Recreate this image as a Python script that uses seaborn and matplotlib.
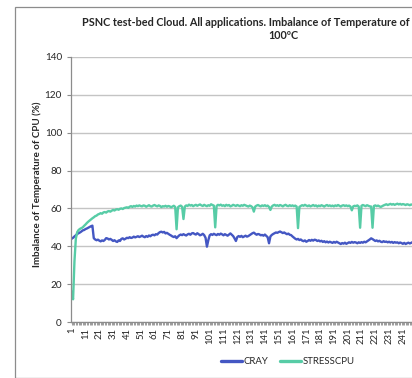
import numpy as np
import pandas as pd
import matplotlib
matplotlib.use("Agg")
import matplotlib.pyplot as plt
from matplotlib.patches import Rectangle
from matplotlib.ticker import FixedLocator, FuncFormatter
import seaborn as sns

# Imbalance of CPU temperature (%) per sample, two applications
cray = [
    44.0, 44.5, 45.2, 45.8, 46.5, 46.9, 47.3, 47.8, 48.4, 48.6,
    49.1, 49.4, 49.8, 50.2, 50.6, 50.9, 44.3, 43.6, 43.2, 43.5,
    43.0, 42.6, 43.1, 42.8, 43.4, 44.3, 44.1, 43.6, 43.9, 43.4,
    42.8, 43.2, 42.6, 42.3, 43.1, 42.8, 43.9, 44.2, 43.6, 44.0,
    44.5, 44.3, 44.8, 44.4, 44.6, 45.1, 44.7, 45.0, 45.3, 44.9,
    45.2, 45.6, 45.1, 44.8, 45.4, 45.0, 45.7, 45.3, 45.9, 46.1,
    45.8, 46.4, 46.2, 47.0, 47.5, 47.7, 47.3, 47.6, 46.8, 47.1,
    46.6, 46.1, 45.7, 45.2, 44.9, 45.3, 44.3, 45.1, 45.8, 46.2,
    45.9, 46.4, 46.0, 45.7, 46.3, 46.6, 46.1, 46.8, 47.0, 46.5,
    46.2, 46.9, 46.4, 45.8, 46.1, 46.6, 45.9, 44.5, 39.8, 43.2,
    45.8, 46.4, 46.0, 46.6, 46.2, 45.9, 46.5, 46.1, 46.7, 46.3,
    45.8, 46.4, 46.0, 45.6, 46.2, 46.8, 46.1, 45.4, 44.2, 42.8,
    44.9, 45.4, 45.0, 45.5, 44.8, 45.2, 45.6, 45.1, 45.4, 45.9,
    46.4, 46.9, 47.2, 46.6, 46.1, 46.5, 46.3, 45.8, 46.0, 45.6,
    46.2, 45.5, 44.8, 41.6, 45.2, 46.0, 46.5, 46.9, 47.3, 47.1,
    47.5, 47.8, 47.4, 47.0, 47.3, 46.8, 46.4, 46.7, 46.1, 45.9,
    45.2, 44.6, 44.0, 43.6, 43.9, 43.3, 43.6, 43.0, 42.7, 43.1,
    42.4, 42.8, 43.3, 42.9, 43.4, 43.0, 43.5, 43.3, 42.8, 43.1,
    42.6, 42.9, 42.3, 42.7, 42.1, 42.5, 42.0, 42.4, 42.1, 41.8,
    42.3, 41.9, 42.4, 42.0, 41.6, 41.2, 41.7, 41.4, 41.9, 41.3,
    41.7, 42.1, 41.8, 42.3, 41.9, 42.2, 42.0, 41.6, 42.1, 41.8,
    42.2, 41.9, 42.4, 42.1, 42.6, 43.1, 43.6, 44.2, 43.8, 43.3,
    42.8, 43.1, 42.6, 42.9, 42.4, 42.2, 42.7, 42.3, 42.5, 42.1,
    42.4, 42.0, 42.3, 41.8, 42.2, 41.9, 42.1, 41.6, 42.0, 41.7,
    41.3, 41.8, 41.2, 41.6, 41.9, 41.5, 41.8, 42.2, 41.9, 42.1,
]

stresscpu = [
    16.0, 12.0, 32.0, 44.0, 47.5, 48.6, 49.2, 49.6, 50.0, 50.8,
    51.5, 52.3, 53.0, 53.6, 54.2, 54.8, 55.3, 55.9, 56.2, 56.8,
    57.1, 57.5, 57.2, 57.9, 58.1, 57.8, 58.4, 58.6, 58.3, 58.8,
    59.2, 58.9, 59.4, 59.6, 59.3, 59.8, 60.0, 59.7, 60.2, 60.4,
    60.6, 60.3, 60.9, 61.2, 60.8, 61.3, 61.0, 61.5, 61.2, 61.6,
    61.3, 61.1, 61.6, 61.4, 60.9, 61.3, 61.7, 61.2, 61.0, 61.5,
    61.8, 61.4, 61.1, 61.6, 61.3, 60.7, 61.2, 61.0, 61.4, 60.9,
    61.3, 61.1, 60.6, 61.0, 61.4, 60.8, 49.0, 60.6, 61.2, 61.5,
    60.9, 54.4, 61.0, 61.6, 61.3, 62.0, 61.5, 61.8, 61.2, 61.6,
    61.9, 61.4, 61.8, 62.1, 61.6, 61.3, 61.9, 61.5, 61.2, 61.7,
    61.4, 62.2, 61.8, 61.5, 50.0, 61.3, 61.9, 61.6, 62.0, 61.4,
    61.7, 61.2, 61.9, 61.5, 61.8, 61.1, 61.4, 61.9, 61.6, 61.3,
    61.8, 61.5, 61.2, 61.7, 61.4, 61.9, 61.6, 61.3, 61.0, 61.5,
    61.2, 60.6, 58.3, 61.0, 61.5, 61.8, 61.4, 61.1, 61.6, 61.3,
    61.7, 61.2, 61.5, 60.8, 59.2, 61.0, 61.6, 61.9, 61.4, 61.7,
    61.3, 61.8, 61.5, 61.1, 61.6, 61.9, 61.4, 61.2, 61.7, 61.3,
    61.6, 61.2, 61.5, 61.0, 49.6, 60.8, 61.3, 61.7, 61.4, 61.9,
    61.5, 61.2, 61.6, 61.1, 61.4, 61.8, 61.3, 61.6, 61.0, 61.5,
    61.2, 61.7, 61.4, 61.0, 61.5, 61.8, 61.3, 61.6, 61.2, 61.5,
    61.1, 61.6, 61.3, 61.8, 61.4, 61.0, 61.5, 61.7, 61.3, 61.6,
    61.2, 61.5, 61.0, 59.0, 61.1, 61.4, 61.2, 61.6, 61.0, 49.8,
    61.4, 61.8, 61.5, 61.2, 61.7, 61.4, 61.1, 61.0, 49.8, 61.3,
    61.6, 61.2, 61.5, 61.1, 60.8, 61.2, 61.6, 61.9, 62.2, 61.8,
    62.1, 62.4, 62.0, 62.3, 61.9, 62.2, 62.5, 62.1, 62.4, 62.0,
    62.3, 62.1, 61.8, 62.2, 62.0, 61.7, 62.1, 61.9, 62.2, 62.0,
]

series_names = ["CRAY", "STRESSCPU"]
series_colors = ["#4457c3", "#57cca6"]
y_ticks = [0, 20, 40, 60, 80, 100, 120, 140]
n_categories = 340          # full length of the category axis
last_label = 241            # last category label inside the figure
label_every = 10

samples = np.arange(1, len(cray) + 1)
df = pd.concat([
    pd.DataFrame({"sample": samples, "value": cray, "series": series_names[0]}),
    pd.DataFrame({"sample": samples, "value": stresscpu, "series": series_names[1]}),
])

sns.set_theme(style="white")
plt.rcParams["font.family"] = ["Lato", "DejaVu Sans"]

W, H, DPI = 412, 378, 100
fig = plt.figure(figsize=(W / DPI, H / DPI), dpi=DPI)

# outer chart frame
fig.patches.append(Rectangle((15.5 / W, 0.5 / H), 1.0, (377 - 6) / H,
                             transform=fig.transFigure, fill=False,
                             edgecolor="#8c8c8c", linewidth=0.9, zorder=0))

px_per_cat = 1.38
ax_left, ax_bottom, ax_top = 71, 322, 57
ax = fig.add_axes([ax_left / W, (H - ax_bottom) / H,
                   n_categories * px_per_cat / W, (ax_bottom - ax_top) / H])

sns.lineplot(data=df, x="sample", y="value", hue="series",
             palette=dict(zip(series_names, series_colors)),
             linewidth=1.7, ax=ax, legend=True)

ax.set_xlim(0.5, n_categories + 0.5)
ax.set_ylim(0, 140)
ax.set_yticks(y_ticks)
ax.yaxis.grid(True, color="#c4c4c4", linewidth=1.0)
ax.set_axisbelow(True)
for side in ["top", "right"]:
    ax.spines[side].set_visible(False)
ax.spines["left"].set_color("#8c8c8c")
ax.spines["bottom"].set_color("#8c8c8c")
ax.spines["left"].set_linewidth(0.9)
ax.spines["bottom"].set_linewidth(0.9)

ax.xaxis.set_major_locator(FixedLocator(np.arange(1, len(cray) + 1)))
ax.xaxis.set_major_formatter(FuncFormatter(
    lambda v, p: str(int(round(v)))
    if int(round(v)) % label_every == 1 and int(round(v)) <= last_label else ""))
ax.tick_params(axis="x", bottom=True, length=2.5, width=0.6, color="#8c8c8c",
               pad=1.5, labelsize=6.8, labelrotation=90, labelcolor="#262626")
ax.tick_params(axis="y", left=True, length=3.0, width=0.8, color="#8c8c8c",
               pad=3.5, labelsize=7.2, labelcolor="#262626")
for lab in ax.get_xticklabels():
    lab.set_verticalalignment("top")

ax.set_xlabel("")
ax.set_ylabel("")

fig.text(37 / W, (H - 184.5) / H, "Imbalance of Temperature of CPU (%)",
         rotation=90, ha="center", va="center", fontsize=7.1,
         fontweight="bold", color="#262626")

fig.text(82 / W, (H - 23) / H,
         "PSNC test-bed Cloud. All applications. Imbalance of Temperature of",
         ha="left", va="center", fontsize=7.8, fontweight="bold", color="#262626")
fig.text(283.5 / W, (H - 35.5) / H, "100ºC",
         ha="center", va="center", fontsize=7.8, fontweight="bold", color="#262626")

handles, labels = ax.get_legend_handles_labels()
ax.get_legend().remove()
leg = fig.legend(handles, labels, loc="center", bbox_to_anchor=(288 / W, (H - 362) / H),
                 ncol=2, frameon=False, fontsize=6.9, handlelength=2.2,
                 handletextpad=0.2, columnspacing=1.2)
for line in leg.get_lines():
    line.set_linewidth(2.4)
for t in leg.get_texts():
    t.set_color("#262626")

fig.savefig("out.png", dpi=DPI)
